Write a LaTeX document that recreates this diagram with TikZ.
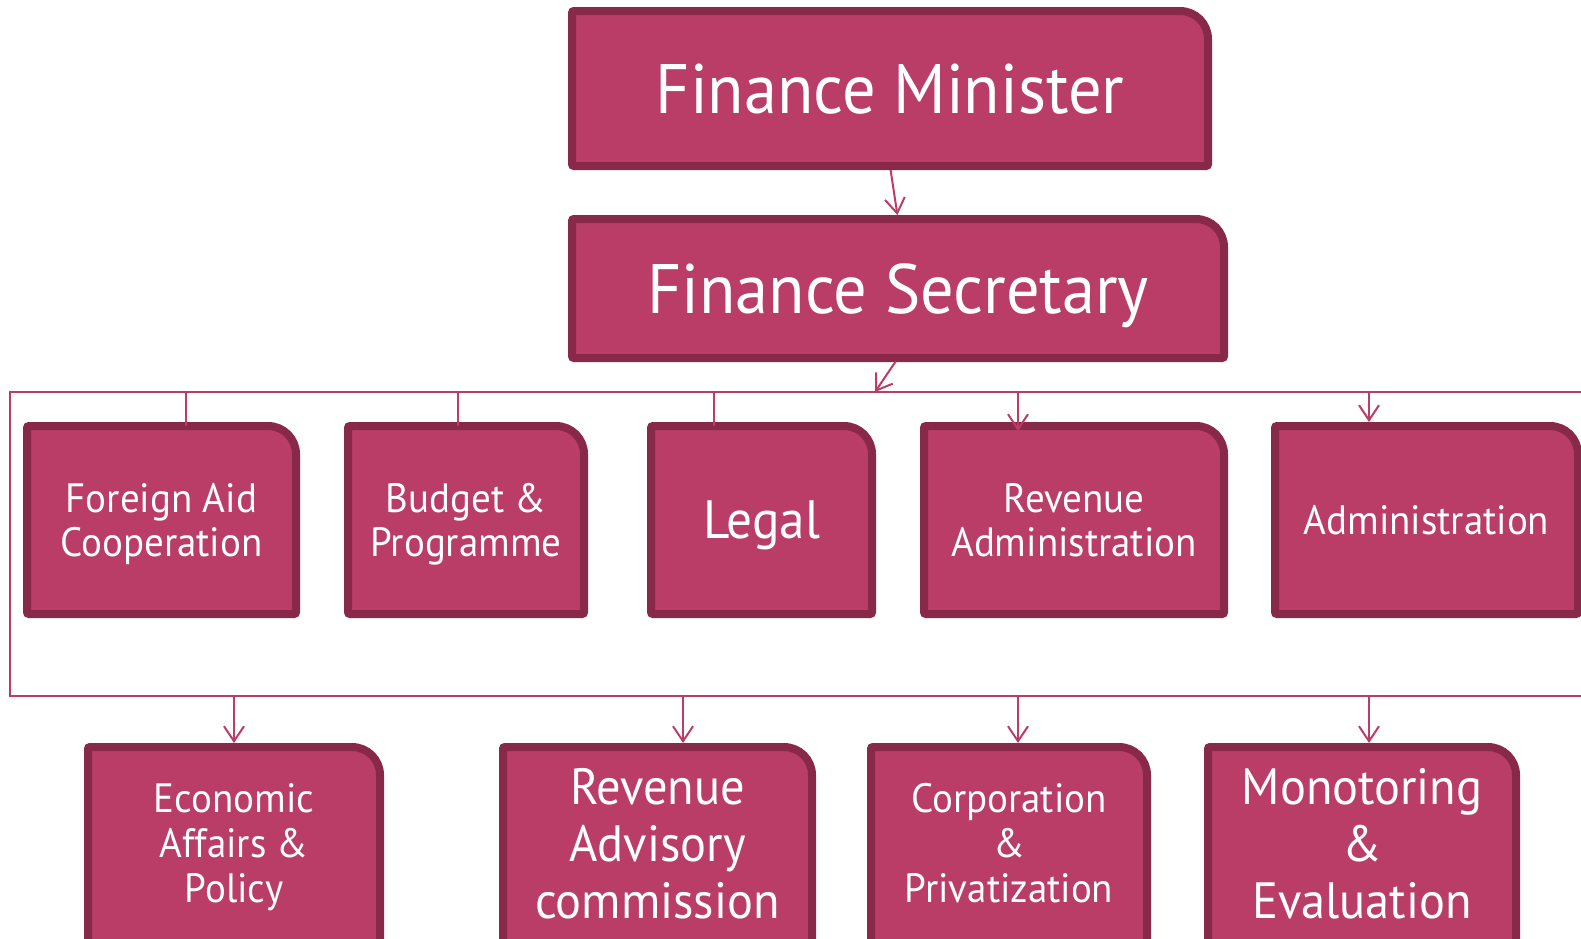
\documentclass[tikz,border=0pt]{standalone}
\usepackage{fontspec}
\setmainfont{PT Sans}[FakeStretch=0.95]
\usetikzlibrary{arrows.meta,calc}
\pgfdeclarelayer{background}
\pgfsetlayers{background,main}
\definecolor{MOF-FILL}{RGB}{185, 61, 103}
\definecolor{MOF-EDGE}{RGB}{136, 41, 73}
\definecolor{MOF-LINE}{RGB}{188, 60, 102}

% unit box: thick edge, one big rounded corner top right
% optional arg pushes the bottom edge down
\newcommand{\orgbox}[2][0]{%
  \filldraw[fill=MOF-FILL, draw=MOF-EDGE, line width=8pt, rounded corners=28pt]
    (#2.north) -- (#2.north east) -- (#2.east) [rounded corners=2pt]
    -- ($(#2.south east)+(0,#1)$) -- ($(#2.south west)+(0,#1)$)
    -- (#2.north west) -- cycle;}

\begin{document}
\begin{tikzpicture}[x=1pt, y=-1pt,
  unit/.style={text=white, align=center, inner sep=0pt, outer sep=0pt, text depth=0pt},
  head/.style={unit, font=\fontsize{70}{84}\selectfont},
  dept/.style={unit, minimum height=188pt, font=\fontsize{41}{44.5}\selectfont},
  wing/.style={unit, minimum height=192pt, font=\fontsize{41}{45}\selectfont},
  link/.style={draw=MOF-LINE, line width=2pt},
  feed/.style={link, -{Straight Barb[length=15pt, width=20pt]}, shorten >=4pt}]
  \useasboundingbox (0,0) rectangle (1581,938);

  % top of the chain
  \node[head, minimum width=636pt, minimum height=155pt] (fm) at (890,88.5) {Finance Minister};
  \node[head, minimum width=652pt, minimum height=139pt] (fs) at (898,288.5) {Finance Secretary};

  % departments
  \node[dept, minimum width=269pt] (fa) at (161.5,520) {Foreign Aid\\Cooperation};
  \node[dept, minimum width=236pt] (bp) at (466,520) {Budget \&\\Programme};
  \node[dept, minimum width=221pt, font=\fontsize{54}{60}\selectfont] (lg) at (761.5,520) {Legal};
  \node[dept, minimum width=300pt] (ra) at (1074,520) {Revenue\\Administration};
  \node[dept, minimum width=303pt] (ad) at (1426.5,520) {Administration};

  % wings
  \node[wing, minimum width=292pt] (ec) at (234,843) {Economic\\Affairs \&\\Policy};
  \node[wing, minimum width=309pt, font=\fontsize{51}{57}\selectfont] (rv) at (657.5,843) {Revenue\\Advisory\\commission};
  \node[wing, minimum width=276pt] (cp) at (1009,843) {Corporation\\\&\\Privatization};
  \node[wing, minimum width=308pt, font=\fontsize{51}{57}\selectfont] (mo) at (1362,843) {Monotoring\\\&\\Evaluation};

  \begin{pgfonlayer}{background}
    \fill[white] (0,0) rectangle (1581,938);
    \foreach \n in {fm,fs,fa,bp,lg,ra,ad}
      \orgbox{\n};
    \foreach \n in {ec,rv,cp,mo}
      \orgbox[30]{\n};
  \end{pgfonlayer}

  % bus lines
  \coordinate (bus-nw) at (10,392);
  \coordinate (bus-ne) at (1600,392);
  \coordinate (bus-sw) at (10,696);
  \coordinate (bus-se) at (1600,696);
  \draw[link] (bus-ne) -- (bus-nw) -- (bus-sw) -- (bus-se);

  \coordinate (fs-in) at (875,392);
  \draw[feed, shorten <=4pt] (fm.south) -- (fs.north);
  \draw[feed, shorten <=4pt, shorten >=0pt] (fs.south) -- (fs-in);

  % drops to departments
  \coordinate (d1) at (186,392);
  \coordinate (d2) at (458,392);
  \coordinate (d3) at (714,392);
  \coordinate (d4) at (1018,392);
  \coordinate (d5) at (1369,392);
  \draw[link] (d1) -- (d1 |- fa.north);
  \draw[link] (d2) -- (d2 |- bp.north);
  \draw[link] (d3) -- (d3 |- lg.north);
  \draw[feed, shorten >=-5pt] (d4) -- (d4 |- ra.north);
  \draw[feed] (d5) -- (d5 |- ad.north);

  % drops to wings
  \coordinate (w1) at (234,696);
  \coordinate (w2) at (683,696);
  \coordinate (w3) at (1018,696);
  \coordinate (w4) at (1369,696);
  \draw[feed] (w1) -- (w1 |- ec.north);
  \draw[feed] (w2) -- (w2 |- rv.north);
  \draw[feed] (w3) -- (w3 |- cp.north);
  \draw[feed] (w4) -- (w4 |- mo.north);
\end{tikzpicture}
\end{document}
